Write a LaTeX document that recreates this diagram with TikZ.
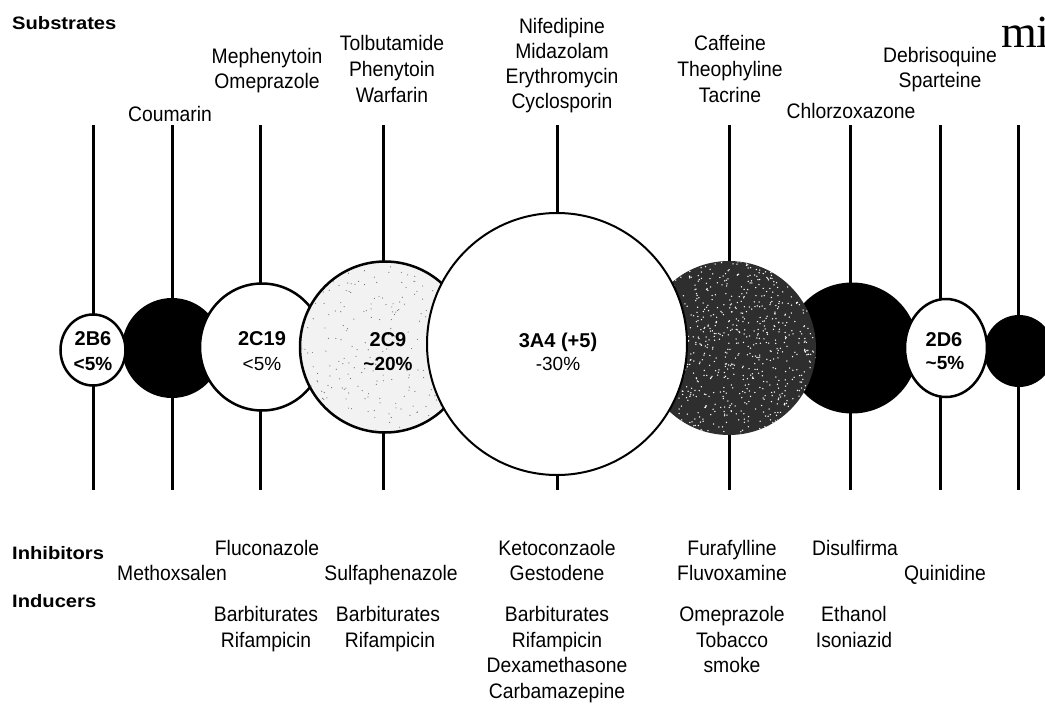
\documentclass[tikz,border=0pt]{standalone}
\usepackage{fontspec}
\setmainfont{Liberation Sans}[FakeStretch=0.92]
\newfontfamily\hdfont{Liberation Sans}[FakeStretch=1.12]
\newfontfamily\cfont{Liberation Sans}
\newfontfamily\logofont{Liberation Serif}
\usetikzlibrary{shapes.geometric}
\tikzset{
  drug/.style={font=\fontsize{21}{25}\selectfont, anchor=base, inner sep=0pt},
  hd/.style={font=\hdfont\bfseries\fontsize{18}{20}\selectfont, anchor=base west, inner sep=0pt},
  cyp/.style={font=\cfont\bfseries\fontsize{20}{22}\selectfont, anchor=base, inner sep=0pt},
  pct/.style={font=\cfont\fontsize{19}{21}\selectfont, anchor=base, inner sep=0pt},
  pctb/.style={font=\cfont\bfseries\fontsize{19}{21}\selectfont, anchor=base, inner sep=0pt},
  stem/.style={line width=3pt},
  iso/.style={ellipse, inner sep=0pt, outer sep=0pt},
  whiteiso/.style={iso, draw=black, fill=white, line width=2.5pt},
  blackiso/.style={iso, fill=black},
}
\begin{document}
\begin{tikzpicture}[x=1pt,y=-1pt]
\useasboundingbox (0,0) rectangle (1045,704);
\fill[white] (0,0) rectangle (1045,704);

% stems
\foreach \n/\x in {a/93,b/172,c/260,d/383,e/557,f/729,g/850,h/940,i/1018}{
  \coordinate (top-\n) at (\x,125);
  \coordinate (bot-\n) at (\x,490);
  \draw[stem] (top-\n) -- (bot-\n);
}

% dark isoforms (behind)
\node[blackiso, minimum width=100, minimum height=100] (cCou) at (172,348) {};
\node[blackiso, minimum width=132, minimum height=131] (cChl) at (852,348) {};
\node[blackiso, minimum width=70, minimum height=72] (cEnd) at (1019,351) {};
\node[iso, fill=black!82, minimum width=174, minimum height=174] (cCaf) at (729,348) {};
\begin{scope}
  \clip (729,348) circle[radius=87];
  \pgfmathsetseed{3}
  \foreach \k in {1,...,900}{
    \fill[white] ({729+87*rand},{348+87*rand}) circle[radius=0.75];
  }
\end{scope}

% white / light isoforms
\node[whiteiso, minimum width=124, minimum height=127] (c2C19) at (262,347) {};
\node[whiteiso, fill=black!5, minimum width=170, minimum height=171] (c2C9) at (385,347) {};
\begin{scope}
  \clip (385,347) circle[radius=84];
  \pgfmathsetseed{11}
  \foreach \k in {1,...,260}{
    \fill[black!55] ({385+84*rand},{347+84*rand}) circle[radius=0.6];
  }
\end{scope}
\node[whiteiso, line width=2pt, minimum width=260, minimum height=262] (c3A4) at (557,344) {};
\node[whiteiso, minimum width=65, minimum height=71] (c2B6) at (93,350) {};
\node[whiteiso, minimum width=82, minimum height=98] (c2D6) at (946,348) {};

% isoform labels
\node[cyp] (l2B6) at (93,345.5) {2B6};
\node[pctb] (p2B6) at (93,370) {<5\%};
\node[cyp] (l2C19) at (262,345.5) {2C19};
\node[pct] (p2C19) at (262,370) {<5\%};
\node[cyp] (l2C9) at (388,346) {2C9};
\node[pctb] (p2C9) at (388,370) {\textasciitilde20\%};
\node[cyp] (l3A4) at (558,347) {3A4 (+5)};
\node[pct] (p3A4) at (558,370) {-30\%};
\node[cyp] (l2D6) at (944,346) {2D6};
\node[pctb] (p2D6) at (945,369) {\textasciitilde5\%};

% headings
\node[hd] (hSub) at (12,30) {Substrates};
\node[hd] (hInh) at (12,559) {Inhibitors};
\node[hd] (hInd) at (12,607) {Inducers};

% substrates
\node[drug] (sCou) at (170,121) {Coumarin};
\node[drug] (s2C19a) at (267,63) {Mephenytoin};
\node[drug] (s2C19b) at (267,88) {Omeprazole};
\node[drug] (s2C9a) at (392,50) {Tolbutamide};
\node[drug] (s2C9b) at (392,76) {Phenytoin};
\node[drug] (s2C9c) at (392,102) {Warfarin};
\node[drug] (s3A4a) at (562,33) {Nifedipine};
\node[drug] (s3A4b) at (562,58) {Midazolam};
\node[drug] (s3A4c) at (562,83) {Erythromycin};
\node[drug] (s3A4d) at (562,108) {Cyclosporin};
\node[drug] (s1A2a) at (730,50) {Caffeine};
\node[drug] (s1A2b) at (730,76) {Theophyline};
\node[drug] (s1A2c) at (730,102) {Tacrine};
\node[drug] (sChl) at (851,118) {Chlorzoxazone};
\node[drug] (s2D6a) at (940,62) {Debrisoquine};
\node[drug] (s2D6b) at (940,87) {Sparteine};
\node[anchor=base west, inner sep=0pt, font=\logofont\fontsize{46}{46}\selectfont] (logo) at (1001,47) {mi};

% inhibitors
\node[drug] (iFlu) at (267,555) {Fluconazole};
\node[drug] (iMet) at (172,580) {Methoxsalen};
\node[drug] (iSul) at (391,580) {Sulfaphenazole};
\node[drug] (iKet) at (557,555) {Ketoconzaole};
\node[drug] (iGes) at (557,580) {Gestodene};
\node[drug] (iFur) at (732,555) {Furafylline};
\node[drug] (iFlv) at (732,580) {Fluvoxamine};
\node[drug] (iDis) at (855,555) {Disulfirma};
\node[drug] (iQui) at (945,580) {Quinidine};

% inducers
\node[drug] (d2C19a) at (266,621) {Barbiturates};
\node[drug] (d2C19b) at (266,647) {Rifampicin};
\node[drug] (d2C9a) at (388,621) {Barbiturates};
\node[drug] (d2C9b) at (390,647) {Rifampicin};
\node[drug] (d3A4a) at (557,621) {Barbiturates};
\node[drug] (d3A4b) at (557,647) {Rifampicin};
\node[drug] (d3A4c) at (557,672) {Dexamethasone};
\node[drug] (d3A4d) at (557,698) {Carbamazepine};
\node[drug] (d1A2a) at (732,621) {Omeprazole};
\node[drug] (d1A2b) at (732,647) {Tobacco};
\node[drug] (d1A2c) at (732,672) {smoke};
\node[drug] (d2E1a) at (854,621) {Ethanol};
\node[drug] (d2E1b) at (854,647) {Isoniazid};
\end{tikzpicture}
\end{document}
